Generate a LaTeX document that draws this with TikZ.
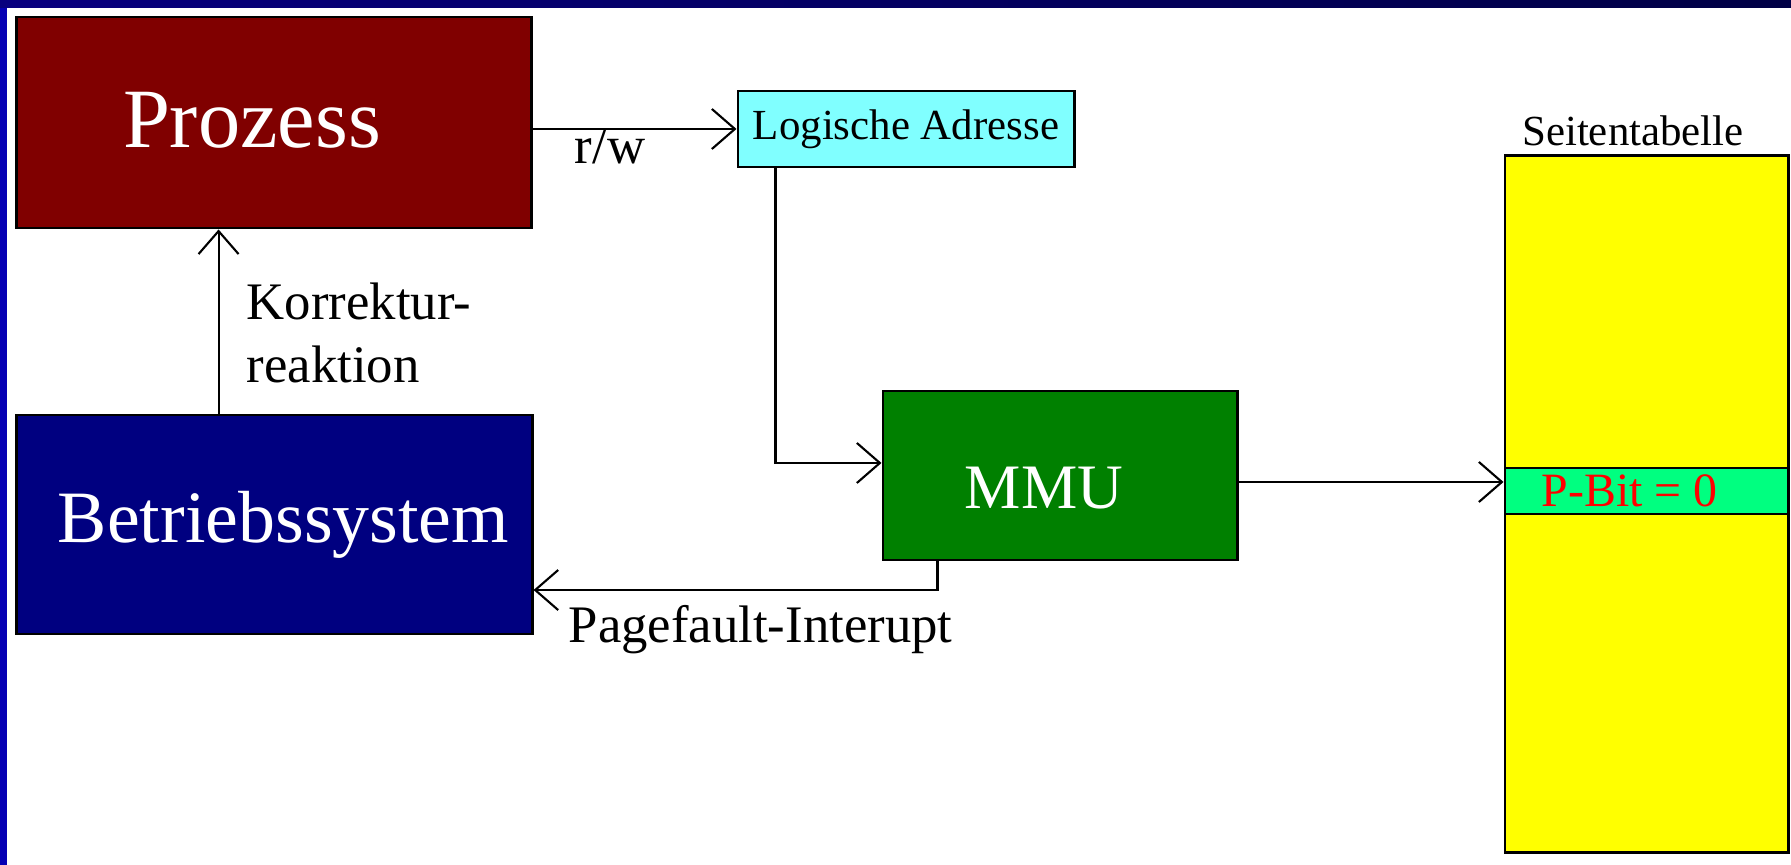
\documentclass[tikz,border=0pt]{standalone}
\usepackage{fontspec}
\setmainfont{Liberation Serif}
\usetikzlibrary{arrows.meta, positioning}

\definecolor{prozessred}{HTML}{800000}
\definecolor{bsblue}{HTML}{000080}
\definecolor{mmugreen}{HTML}{008000}
\definecolor{adrcyan}{HTML}{80FFFF}
\definecolor{tabyellow}{HTML}{FFFF00}
\definecolor{bitgreen}{HTML}{00FF80}
\definecolor{framel}{HTML}{0600B4}
\definecolor{topa}{HTML}{08007F}
\definecolor{topb}{HTML}{000045}

\begin{document}
\begin{tikzpicture}[
x=0.01cm, y=-0.01cm,
box/.style={rectangle, draw=black, line width=0.8pt, inner sep=0pt, align=center},
lbl/.style={inner sep=0pt, font=\fontsize{15}{18}\selectfont},
line/.style={-{Straight Barb[length=0.23cm, width=0.4cm]}, line width=0.6pt}
]
% page and frame
\useasboundingbox (0,0) rectangle (1791,865);
\fill[white] (0,0) rectangle (1791,865);
\shade[left color=topa, right color=topb] (0,0) rectangle (1791,8);
\fill[framel] (0,8) rectangle (7,865);

% boxes
\node[box, fill=prozessred, minimum width=5.14cm, minimum height=2.11cm,
  label={[text=white, xshift=-0.22cm, yshift=0.02cm, font=\fontsize{24}{28}\selectfont]center:Prozess}] (proc) at (274,122.5) {};
\node[box, fill=bsblue, minimum width=5.15cm, minimum height=2.19cm,
  label={[text=white, xshift=0.09cm, font=\fontsize{21}{25}\selectfont]center:Betriebssystem}] (os) at (274.5,524.5) {};
\node[box, fill=adrcyan, minimum width=3.36cm, minimum height=0.76cm,
  font=\fontsize{12.2}{14}\selectfont] (logaddr) at (906,129) {Logische Adresse};
\node[box, fill=mmugreen, minimum width=3.54cm, minimum height=1.69cm,
  label={[text=white, xshift=-0.16cm, yshift=-0.13cm, font=\fontsize{18}{22}\selectfont]center:MMU}] (mmu) at (1060,475.5) {};
\node[box, fill=tabyellow, minimum width=2.83cm, minimum height=6.96cm] (table) at (1646.5,504) {};
\node[box, fill=bitgreen, minimum width=2.83cm, minimum height=0.46cm,
  label={[text=red, xshift=-0.17cm, font=\fontsize{13.6}{16}\selectfont]center:P-Bit = 0}] (pbit) at (1646.5,491) {};
\node[lbl, font=\fontsize{12.2}{14}\selectfont] (tabtitle) at (1633,131) {Seitentabelle};

% connectors
\draw[line] (proc.east |- logaddr.west) -- (logaddr.west);
\draw[line] ([xshift=0.39cm]logaddr.south west) |- ([yshift=0.125cm]mmu.west);
\draw[line] ([yshift=-0.065cm]mmu.east) -- ([yshift=-0.065cm]mmu.east -| pbit.west);
\draw[line] ([xshift=0.56cm]mmu.south west) |- ([yshift=-0.655cm]os.east);
\draw[line] ([xshift=2.03cm]os.north west) -- ([xshift=2.03cm]proc.south west);

% labels
\node[lbl] (rw) at (610,146) {r/w};
\node[lbl, anchor=west, align=left] (korr) at (246,333) {Korrektur-\\reaktion};
\node[lbl, anchor=west] (pf) at (568,630) {Pagefault-Interupt};
\end{tikzpicture}
\end{document}
